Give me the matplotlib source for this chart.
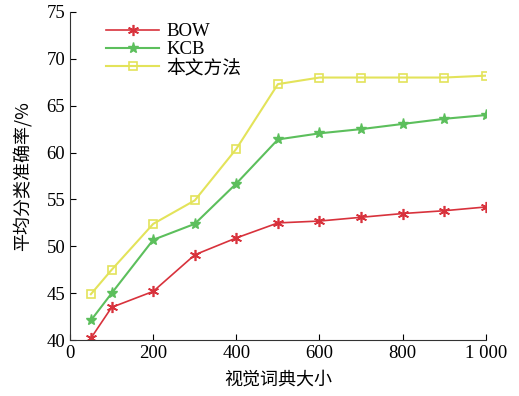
import matplotlib.pyplot as plt
from matplotlib.ticker import FixedLocator, FuncFormatter

plt.rcParams['font.family'] = ['Liberation Serif', 'Noto Sans CJK SC']

sizes = [50, 100, 200, 300, 400, 500, 600, 700, 800, 900, 1000]
bow = [40.2, 43.5, 45.2, 49.1, 50.9, 52.5, 52.7, 53.1, 53.5, 53.8, 54.2]
kcb = [42.1, 45.0, 50.7, 52.4, 56.7, 61.4, 62.05, 62.5, 63.05, 63.6, 64.0]
ours = [44.9, 47.5, 52.4, 54.9, 60.4, 67.3, 68.0, 68.0, 68.0, 68.0, 68.2]

xticks = [0, 200, 400, 600, 800, 1000]
yticks = [40, 45, 50, 55, 60, 65, 70, 75]

fig = plt.figure(figsize=(5.19, 3.96), dpi=100)
ax = fig.add_axes([0.135, 0.141, 0.801, 0.829])

ax.plot(sizes, bow, color='#d8323c', lw=1.2, marker=(6, 2, 0), ms=8,
        mew=1.2, label='BOW')
ax.plot(sizes, kcb, color='#5cbf5c', lw=1.5, marker='*', ms=8,
        label='KCB')
ax.plot(sizes, ours, color='#e3e35a', lw=1.5, marker='s', ms=6,
        mfc='none', mew=1.2, label='本文方法')

ax.set_xlim(0, 1000)
ax.set_ylim(40, 75)
ax.xaxis.set_major_locator(FixedLocator(xticks))
ax.yaxis.set_major_locator(FixedLocator(yticks))
ax.xaxis.set_major_formatter(FuncFormatter(lambda v, p: f'{int(v):,}'.replace(',', ' ')))
ax.tick_params(direction='in', labelsize=13.5, length=4, width=0.8)
for s in ['top', 'right']:
    ax.spines[s].set_visible(False)
for s in ['left', 'bottom']:
    ax.spines[s].set_linewidth(0.8)
    ax.spines[s].set_color('#333333')

ax.set_xlabel('视觉词典大小', fontsize=13, family=['Noto Sans CJK SC'], labelpad=6)
ax.set_ylabel('平均分类准确率/%', fontsize=13, family=['Noto Sans CJK SC', 'Liberation Serif'], labelpad=10)

leg = ax.legend(loc='upper left', frameon=False, fontsize=13.5,
                handlelength=2.8, borderaxespad=0.2, labelspacing=0.05,
                handletextpad=0.4, bbox_to_anchor=(0.06, 1.0))
for t in leg.get_texts():
    t.set_family(['Liberation Serif', 'Noto Sans CJK SC'])

fig.savefig('out.png', dpi=100)
